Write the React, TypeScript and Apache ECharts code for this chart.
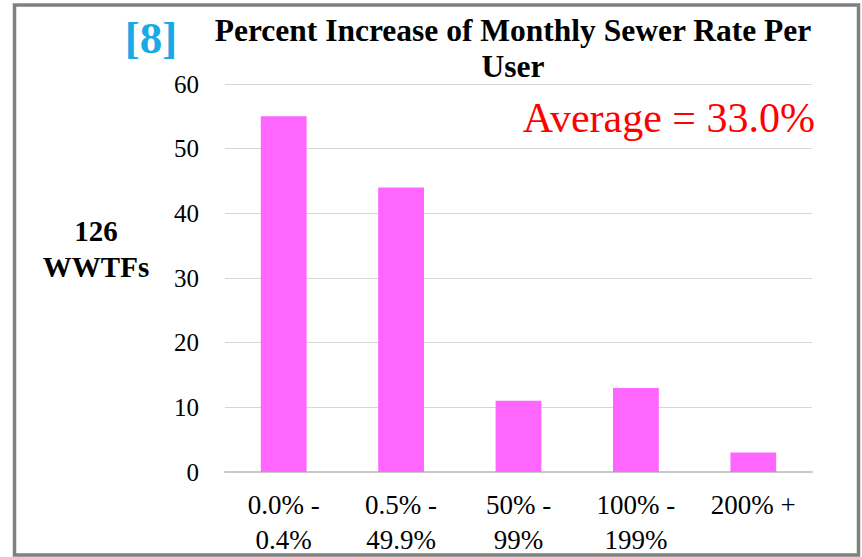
import React, { useEffect, useRef } from "react";
import * as echarts from "echarts";

const categories = ["0.0% -\n0.4%", "0.5% -\n49.9%", "50% -\n99%", "100% -\n199%", "200% +"];
const counts = [55, 44, 11, 13, 3];
const yTicks = { min: 0, max: 60, interval: 10 };
const titleLines = ["Percent Increase of Monthly Sewer Rate Per", "User"];
const refLabel = "[8]";
const averageLabel = "Average = 33.0%";
const yLabelLines = ["126", "WWTFs"];

const FONT = "Liberation Serif";

function txt(x: number, y: number, text: string, fill: string, size: number, weight: string, align: string) {
  return {
    type: "text",
    silent: true,
    style: {
      x,
      y,
      text,
      fill,
      fontFamily: FONT,
      fontSize: size,
      fontWeight: weight,
      textAlign: align,
      textVerticalAlign: "middle",
    },
  };
}

export default function App() {
  const ref = useRef<HTMLDivElement>(null);
  useEffect(() => {
    const chart = echarts.init(ref.current!, undefined, { renderer: "svg" });
    chart.setOption({
      animation: false,
      backgroundColor: "#ffffff",
      textStyle: { fontFamily: FONT },
      grid: { left: 225, right: 50, top: 84, bottom: 84, containLabel: false },
      xAxis: {
        type: "category",
        data: categories,
        axisLine: { show: true, lineStyle: { color: "#c8c8c8", width: 2 } },
        axisTick: { show: false },
        axisLabel: {
          color: "#000",
          fontFamily: FONT,
          fontSize: 27,
          lineHeight: 35,
          margin: 15,
          interval: 0,
        },
      },
      yAxis: {
        type: "value",
        min: yTicks.min,
        max: yTicks.max,
        interval: yTicks.interval,
        axisLine: { show: false },
        axisTick: { show: false },
        splitLine: { lineStyle: { color: "#d6d6d6", width: 1 } },
        axisLabel: { color: "#000", fontFamily: FONT, fontSize: 25, margin: 26 },
      },
      series: [
        {
          type: "bar",
          data: counts,
          barWidth: "39%",
          itemStyle: { color: "#FF66FF" },
        },
      ],
      graphic: [
        {
          type: "rect",
          silent: true,
          shape: { x: 14.5, y: 5, width: 844, height: 550 },
          style: { fill: "none", stroke: "#808080", lineWidth: 3.5 },
        },
        txt(151, 38, refLabel, "#19A9E6", 45, "bold", "center"),
        txt(513, 30, titleLines[0], "#000", 31.5, "bold", "center"),
        txt(513, 66, titleLines[1], "#000", 31.5, "bold", "center"),
        txt(815, 118, averageLabel, "#FF0000", 42, "normal", "right"),
        txt(96, 231, yLabelLines[0], "#000", 29, "bold", "center"),
        txt(96, 267, yLabelLines[1], "#000", 29, "bold", "center"),
      ],
    });
    return () => chart.dispose();
  }, []);
  return (
    <div
      ref={ref}
      style={{ position: "fixed", left: 0, top: 0, width: 862, height: 557, background: "#fff" }}
    />
  );
}
